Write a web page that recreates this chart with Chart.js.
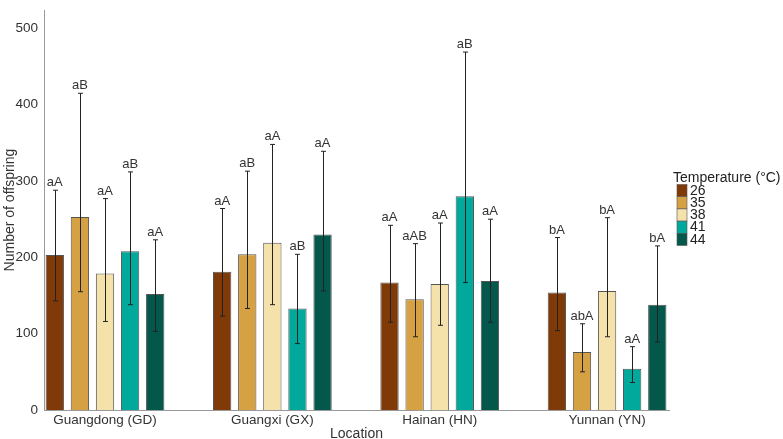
<!DOCTYPE html>
<html>
<head>
<meta charset="utf-8">
<script src="https://cdn.jsdelivr.net/npm/chart.js@4"></script>
<style>
	body { margin: 0; background: #fff; }
	#wrap { width: 783px; height: 439px; }
</style>
</head>
<body>
<div id="wrap"><canvas id="graph"></canvas></div>
<script>
const locations = ["Guangdong (GD)", "Guangxi (GX)", "Hainan (HN)", "Yunnan (YN)"];
const temperatures = ["26", "35", "38", "41", "44"];
const colors = ["#7f3a08", "#d5a142", "#f5e1aa", "#00a99b", "#03584b"];

// mean number of offspring, one array per temperature (GD, GX, HN, YN)
const mean26 = [203, 181, 167, 154];
const mean35 = [253, 204, 145, 76];
const mean38 = [179, 219, 165, 156];
const mean41 = [208, 133, 280, 54];
const mean44 = [152, 230, 169, 138];

// error bar ends
const high26 = [288, 264, 242, 226];
const high35 = [415, 313, 218, 113];
const high38 = [277, 348, 245, 252];
const high41 = [312, 204, 469, 83];
const high44 = [223, 339, 250, 215];
const low26 = [143, 123, 115, 104];
const low35 = [155, 133, 96, 50];
const low38 = [116, 138, 111, 96];
const low41 = [138, 87, 167, 36];
const low44 = [103, 156, 115, 89];

// significance letters
const letters26 = ["aA", "aA", "aA", "bA"];
const letters35 = ["aB", "aB", "aAB", "abA"];
const letters38 = ["aA", "aA", "aA", "bA"];
const letters41 = ["aB", "aB", "aB", "aA"];
const letters44 = ["aA", "aA", "aA", "bA"];

const yTicks = [0, 100, 200, 300, 400, 500];

const means = [mean26, mean35, mean38, mean41, mean44];
const highs = [high26, high35, high38, high41, high44];
const lows = [low26, low35, low38, low41, low44];
const letters = [letters26, letters35, letters38, letters41, letters44];

const FONT = "'Liberation Sans', Arial, sans-serif";
Chart.defaults.font.family = FONT;
Chart.defaults.color = "#333";

const errorBars = {
	id: "errorBars",
	afterDatasetsDraw(chart) {
		const ctx = chart.ctx;
		const y = chart.scales.y;
		ctx.save();
		chart.data.datasets.forEach((ds, i) => {
			const meta = chart.getDatasetMeta(i);
			meta.data.forEach((bar, j) => {
				const top = y.getPixelForValue(highs[i][j]);
				const bottom = y.getPixelForValue(lows[i][j]);
				const x = Math.round(bar.x) + 0.5;
				ctx.strokeStyle = "#222";
				ctx.lineWidth = 1;
				ctx.beginPath();
				ctx.moveTo(x, top);
				ctx.lineTo(x, bottom);
				ctx.moveTo(x - 2.5, top);
				ctx.lineTo(x + 2.5, top);
				ctx.moveTo(x - 2.5, bottom);
				ctx.lineTo(x + 2.5, bottom);
				ctx.stroke();
				ctx.fillStyle = "#333";
				ctx.font = "13px " + FONT;
				ctx.textAlign = "center";
				ctx.textBaseline = "bottom";
				ctx.fillText(letters[i][j], bar.x, top - 1);
			});
		});
		ctx.restore();
	},
};

const legendBox = {
	id: "legendBox",
	afterDraw(chart) {
		const ctx = chart.ctx;
		ctx.save();
		ctx.fillStyle = "#222";
		ctx.font = "14px " + FONT;
		ctx.textAlign = "left";
		ctx.textBaseline = "alphabetic";
		ctx.fillText("Temperature (°C)", 673, 182);
		temperatures.forEach((t, i) => {
			const top = 184.5 + i * 12.2;
			ctx.fillStyle = colors[i];
			ctx.fillRect(677, top, 10, 12.2);
			ctx.strokeStyle = "#555";
			ctx.lineWidth = 0.6;
			ctx.strokeRect(677, top, 10, 12.2);
			ctx.fillStyle = "#222";
			ctx.textBaseline = "middle";
			ctx.fillText(t, 690, top + 6.5);
		});
		ctx.restore();
	},
};

const datasets = temperatures.map((t, i) => ({
	label: t,
	data: means[i].map((v, j) => ({ x: j + 1, y: v })),
	backgroundColor: colors[i],
	borderColor: "#555",
	borderWidth: 1,
	categoryPercentage: 0.75,
	barPercentage: 0.73,
}));

new Chart(document.getElementById("graph"), {
	type: "bar",
	data: { datasets: datasets },
	options: {
		responsive: true,
		maintainAspectRatio: false,
		animation: false,
		layout: { padding: { top: 3, right: 114, bottom: 0, left: 0 } },
		plugins: { legend: { display: false }, tooltip: { enabled: false } },
		scales: {
			x: {
				type: "linear",
				offset: false,
				min: 0.6355,
				max: 4.37,
				grid: { display: false, drawTicks: false },
				border: { color: "#999", width: 1 },
				afterBuildTicks: (scale) => {
					scale.ticks = locations.map((l, i) => ({ value: i + 1 }));
				},
				afterFit: (scale) => {
					scale.height = 29;
				},
				ticks: {
					autoSkip: false,
					maxRotation: 0,
					padding: 2,
					color: "#333",
					font: { size: 13.5 },
					callback: (v) => locations[v - 1],
				},
				title: {
					display: true,
					text: "Location",
					color: "#333",
					font: { size: 14 },
					padding: { top: 0, bottom: -4 },
				},
			},
			y: {
				min: 0,
				max: 524,
				grid: { display: false, drawOnChartArea: false, drawTicks: true, tickLength: 4, tickColor: "#999" },
				border: { color: "#999", width: 1 },
				afterBuildTicks: (scale) => {
					scale.ticks = yTicks.map((v) => ({ value: v }));
				},
				afterFit: (scale) => {
					scale.width = 44;
				},
				ticks: {
					padding: 2,
					color: "#333",
					font: { size: 13.5 },
				},
				title: {
					display: true,
					text: "Number of offspring",
					color: "#333",
					font: { size: 14 },
					padding: { top: 2, bottom: 0 },
				},
			},
		},
	},
	plugins: [errorBars, legendBox],
});
</script>
</body>
</html>
